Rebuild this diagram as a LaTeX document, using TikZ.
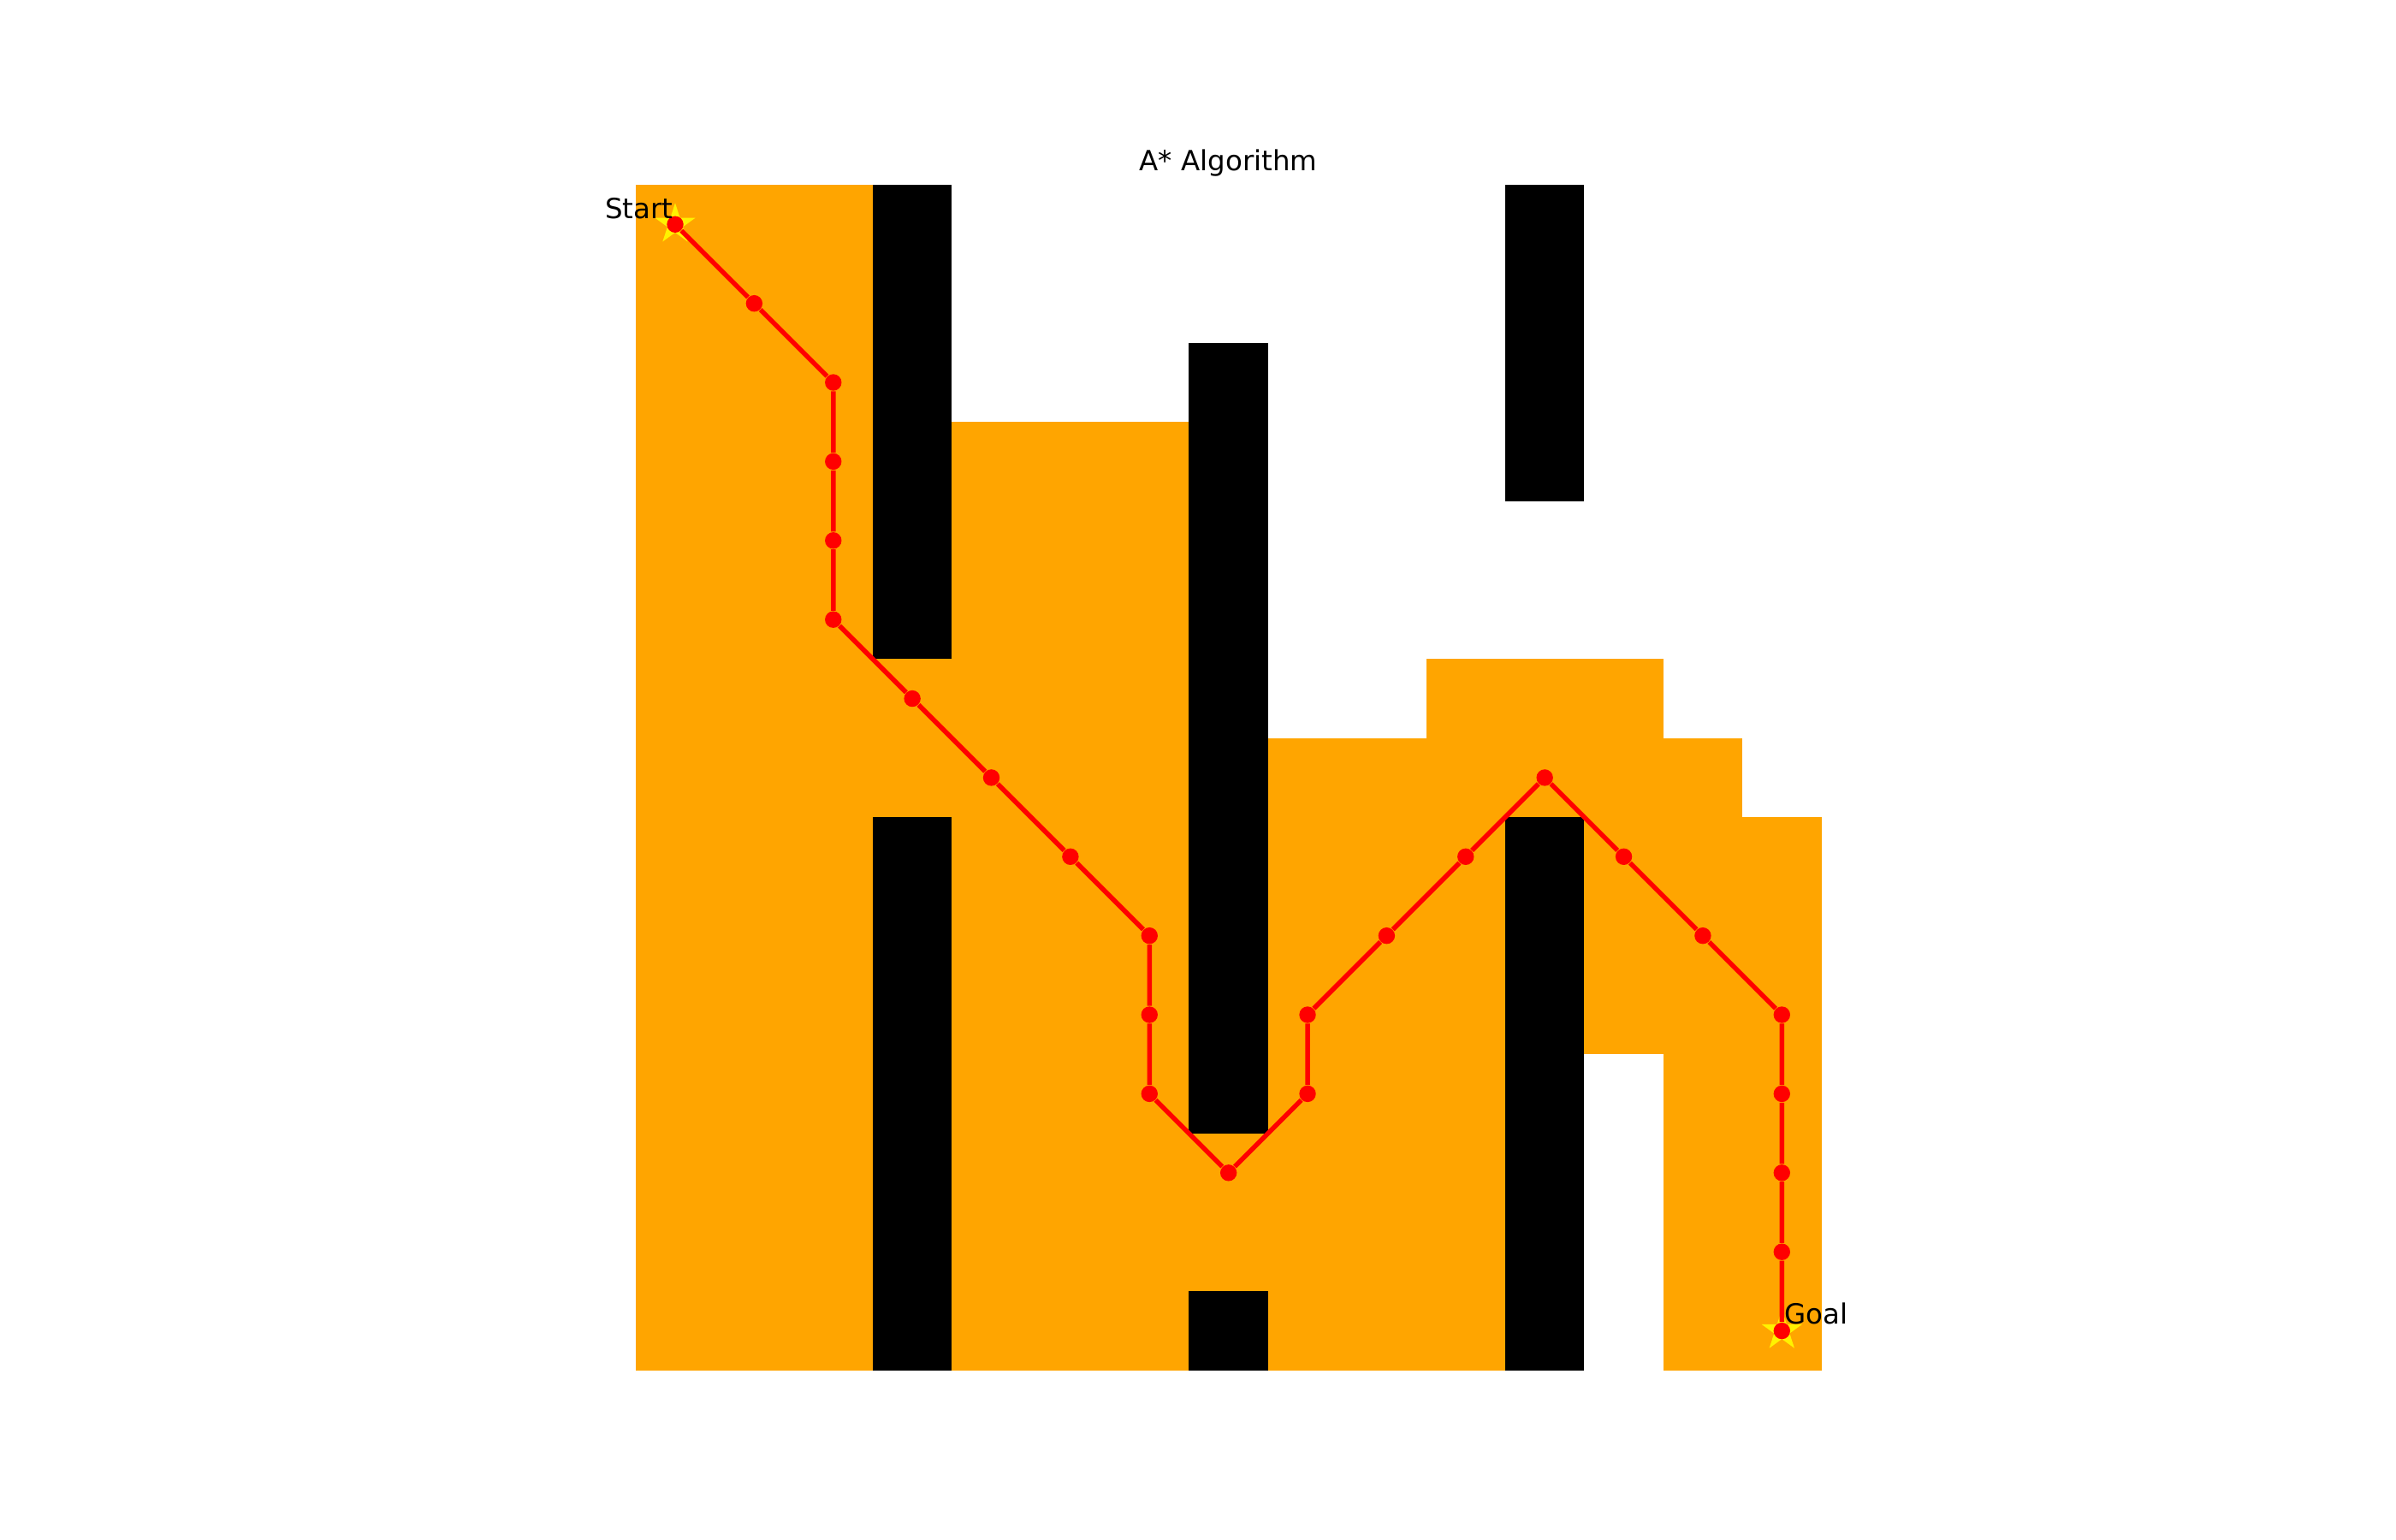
\documentclass[tikz,border=0pt]{standalone}
\usepackage{fontspec}
\setmainfont{DejaVu Sans}
\usepackage{tikz}
\usetikzlibrary{shapes.geometric}

\begin{document}
\begin{tikzpicture}[
  x=1cm, y=1cm,
  font=\fontsize{10}{12}\selectfont,
  explored/.style={fill={rgb,255:red,255;green,165;blue,0}},
  wall/.style={fill=black},
  waypoint/.style={circle, fill=red, inner sep=0pt, minimum size=0.21cm},
  endstar/.style={star, star points=5, star point ratio=2.618, fill=yellow, inner sep=0pt, minimum size=0.54cm},
  route/.style={red, line width=1.7pt},
  lbl/.style={inner sep=0pt, text=black}
]
\useasboundingbox (-8.541,-16.646) rectangle (21.769,2.839);

% explored cells
\fill[explored] (-0.5,0.5) rectangle (2.5,-14.5);
\fill[explored] (2.5,-5.5) rectangle (3.5,-7.5);
\fill[explored] (3.5,-2.5) rectangle (6.5,-14.5);
\fill[explored] (6.5,-11.5) rectangle (7.5,-13.5);
\fill[explored] (7.5,-6.5) rectangle (9.5,-14.5);
\fill[explored] (9.5,-5.5) rectangle (10.5,-14.5);
\fill[explored] (10.5,-5.5) rectangle (11.5,-7.5);
\fill[explored] (11.5,-5.5) rectangle (12.5,-10.5);
\fill[explored] (12.5,-6.5) rectangle (13.5,-14.5);
\fill[explored] (13.5,-7.5) rectangle (14.5,-14.5);

% obstacles
\fill[wall] (2.5,0.5) rectangle (3.5,-5.5);
\fill[wall] (2.5,-7.5) rectangle (3.5,-14.5);
\fill[wall] (6.5,-1.5) rectangle (7.5,-11.5);
\fill[wall] (6.5,-13.5) rectangle (7.5,-14.5);
\fill[wall] (10.5,0.5) rectangle (11.5,-3.5);
\fill[wall] (10.5,-7.5) rectangle (11.5,-14.5);

% start / goal
\node[endstar] (startstar) at (0,0) {};
\node[endstar] (goalstar) at (14,-14) {};

% path
\node[waypoint] (p0) at (0,0) {};
\node[waypoint] (p1) at (1,-1) {};
\node[waypoint] (p2) at (2,-2) {};
\node[waypoint] (p3) at (2,-3) {};
\node[waypoint] (p4) at (2,-4) {};
\node[waypoint] (p5) at (2,-5) {};
\node[waypoint] (p6) at (3,-6) {};
\node[waypoint] (p7) at (4,-7) {};
\node[waypoint] (p8) at (5,-8) {};
\node[waypoint] (p9) at (6,-9) {};
\node[waypoint] (p10) at (6,-10) {};
\node[waypoint] (p11) at (6,-11) {};
\node[waypoint] (p12) at (7,-12) {};
\node[waypoint] (p13) at (8,-11) {};
\node[waypoint] (p14) at (8,-10) {};
\node[waypoint] (p15) at (9,-9) {};
\node[waypoint] (p16) at (10,-8) {};
\node[waypoint] (p17) at (11,-7) {};
\node[waypoint] (p18) at (12,-8) {};
\node[waypoint] (p19) at (13,-9) {};
\node[waypoint] (p20) at (14,-10) {};
\node[waypoint] (p21) at (14,-11) {};
\node[waypoint] (p22) at (14,-12) {};
\node[waypoint] (p23) at (14,-13) {};
\node[waypoint] (p24) at (14,-14) {};

\draw[route] (p0) -- (p1) -- (p2) -- (p3) -- (p4) -- (p5) -- (p6) -- (p7) -- (p8)
  -- (p9) -- (p10) -- (p11) -- (p12) -- (p13) -- (p14) -- (p15) -- (p16)
  -- (p17) -- (p18) -- (p19) -- (p20) -- (p21) -- (p22) -- (p23) -- (p24);

% labels
\node[lbl, anchor=base east] (startlbl) at (-0.02,0.07) {Start};
\node[lbl, anchor=base west] (goallbl) at (14.03,-13.91) {Goal};
\node[lbl, anchor=base] (title) at (7,0.68) {A* Algorithm};
\end{tikzpicture}
\end{document}
